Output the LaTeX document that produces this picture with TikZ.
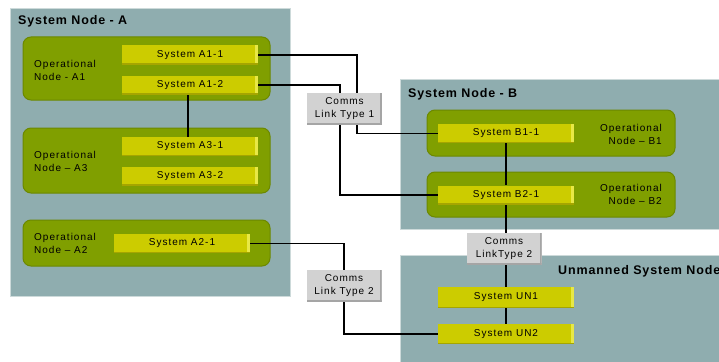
\documentclass[tikz,border=0pt]{standalone}
\usepackage{fontspec}
\setmainfont{Liberation Sans}
\newfontfamily\bodyf{Liberation Sans}[LetterSpace=10]
\newfontfamily\titlef{Liberation Sans}[LetterSpace=7]
\definecolor{panel}{RGB}{143,173,175}
\definecolor{paneledge}{RGB}{205,218,218}
\definecolor{opgreen}{RGB}{128,159,0}
\definecolor{opdark}{RGB}{108,136,0}
\definecolor{sysyel}{RGB}{204,204,0}
\definecolor{syslight}{RGB}{232,232,70}
\definecolor{sysdark}{RGB}{165,165,0}
\definecolor{commgray}{RGB}{210,210,210}
\definecolor{commdark}{RGB}{165,165,165}
\pgfdeclarelayer{bg}
\pgfdeclarelayer{mid}
\pgfsetlayers{bg,mid,main}
\tikzset{
  bodytext/.style={font=\bodyf\fontsize{10}{13}\selectfont},
  titletext/.style={font=\titlef\bfseries\fontsize{12.5}{14}\selectfont, inner sep=0pt},
  panelbox/.style={rectangle, fill=panel, draw=paneledge, line width=0.8pt, inner sep=0pt},
  opnode/.style={rectangle, rounded corners=8pt, fill=opgreen, draw=opdark, line width=1pt, inner sep=0pt},
  oplabel/.style={bodytext, inner sep=0pt},
  sysbox/.style={rectangle, fill=sysyel, minimum width=136pt, minimum height=19pt, inner sep=0pt, bodytext,
    path picture={
      \fill[syslight] ([xshift=-3pt]path picture bounding box.north east) rectangle (path picture bounding box.south east);
      \fill[sysdark] (path picture bounding box.south west) rectangle ([yshift=1.2pt]path picture bounding box.south east);
    }},
  commbox/.style={rectangle, fill=commgray, minimum width=75pt, minimum height=32pt, inner sep=0pt, align=center, bodytext,
    path picture={
      \fill[commdark] ([xshift=-2pt]path picture bounding box.north east) rectangle (path picture bounding box.south east);
      \fill[commdark] (path picture bounding box.south west) rectangle ([yshift=2pt]path picture bounding box.south east);
    }},
  link/.style={draw=black, line width=1.6pt}
}
\begin{document}
\begin{tikzpicture}[x=1pt,y=-1pt]
\useasboundingbox (0,0) rectangle (719,361);

% system boxes
\node[sysbox] (sA11) at (190,55) {System A1-1};
\node[sysbox] (sA12) at (190,85) {System A1-2};
\node[sysbox] (sA31) at (190,146.5) {System A3-1};
\node[sysbox] (sA32) at (190,176) {System A3-2};
\node[sysbox] (sA21) at (182,243.5) {System A2-1};
\node[sysbox] (sB11) at (506,133.5) {System B1-1};
\node[sysbox] (sB21) at (506,195) {System B2-1};
\node[sysbox, minimum height=21pt] (sUN1) at (506,297.5) {System UN1};
\node[sysbox, minimum height=20pt] (sUN2) at (506,334) {System UN2};

% comms boxes
\node[commbox] (c1) at (344.5,109) {Comms\\Link Type 1};
\node[commbox] (c2) at (504,249) {Comms\\LinkType 2};
\node[commbox] (c3) at (344,286) {Comms\\Link Type 2};

\begin{pgfonlayer}{bg}
  \fill[white] (0,0) rectangle (719,361);
  \begin{scope}
  \clip (0,0) rectangle (719,361);
  \node[panelbox, minimum width=280pt, minimum height=288pt] (pA) at (150,152) {};
  \node[panelbox, minimum width=330pt, minimum height=150pt] (pB) at (565,154) {};
  \node[panelbox, minimum width=330pt, minimum height=120pt] (pU) at (565,315) {};
  \node[titletext, anchor=west] (tU) at (558,271) {Unmanned System Node};
  \end{scope}
  \node[titletext, anchor=west] (tA) at (18,21) {System Node - A};
  \node[titletext, anchor=west] (tB) at (408,94) {System Node - B};

  \node[opnode, minimum width=247pt, minimum height=63pt] (oA1) at (146.5,68.5) {};
  \node[opnode, minimum width=247pt, minimum height=65pt] (oA3) at (146.5,160.5) {};
  \node[opnode, minimum width=247pt, minimum height=46pt] (oA2) at (146.5,243) {};
  \node[opnode, minimum width=248pt, minimum height=46pt] (oB1) at (551,133) {};
  \node[opnode, minimum width=248pt, minimum height=45pt] (oB2) at (551,194.5) {};

  \node[oplabel, anchor=west, align=left] (lA1) at (34,70) {Operational\\Node - A1};
  \node[oplabel, anchor=west, align=left] (lA3) at (34,161.5) {Operational\\Node – A3};
  \node[oplabel, anchor=west, align=left] (lA2) at (34,243.5) {Operational\\Node – A2};
  \node[oplabel, anchor=east, align=right] (lB1) at (662,134.5) {Operational\\Node – B1};
  \node[oplabel, anchor=east, align=right] (lB2) at (662,194.5) {Operational\\Node – B2};
\end{pgfonlayer}

\begin{pgfonlayer}{mid}
  \draw[link] (sA11.east) -| ([xshift=12.5pt]c1.north);
  \draw[link] (sA12.east) -| ([xshift=-4.5pt]c1.north);
  \draw[link] ([xshift=12.5pt]c1.south) |- (sB11.west);
  \draw[link] ([xshift=-4.5pt]c1.south) |- (sB21.west);
  \draw[link] ([xshift=-2pt]sA12.south) -- ([xshift=-2pt]sA31.north);
  \draw[link] (sB11.south) -- (sB21.north);
  \draw[link] (sB21.south) -- (sB21.south |- c2.north);
  \draw[link] (sUN1.north |- c2.south) -- (sUN1.north);
  \draw[link] (sUN1.south) -- (sUN2.north);
  \draw[link] (sA21.east) -| (c3.north);
  \draw[link] (c3.south) |- (sUN2.west);
\end{pgfonlayer}
\end{tikzpicture}
\end{document}
